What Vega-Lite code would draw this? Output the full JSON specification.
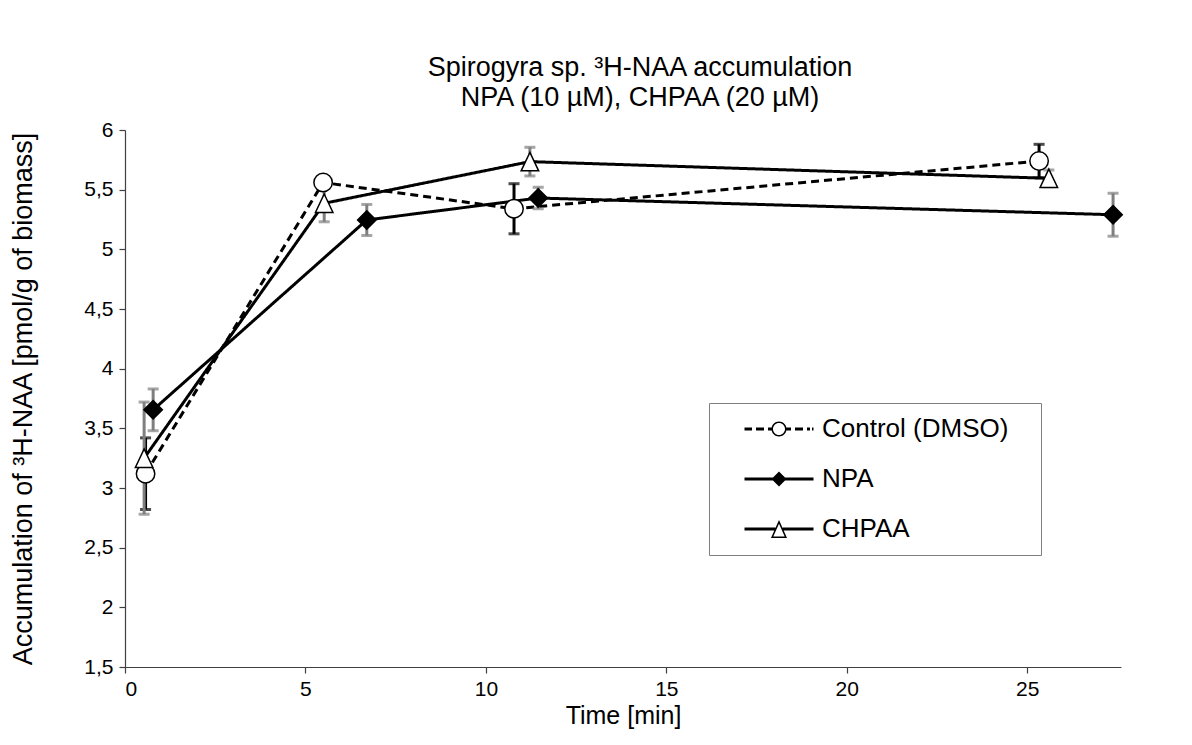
{
  "$schema": "https://vega.github.io/schema/vega-lite/v6.json",
  "width": 996,
  "height": 537,
  "autosize": "none",
  "padding": {"left": 125, "top": 130, "right": 71, "bottom": 78},
  "background": "white",
  "config": {
    "font": "Liberation Sans",
    "view": {"stroke": null},
    "axis": {
      "grid": false,
      "domainColor": "#404040",
      "domainWidth": 1.2,
      "tickColor": "#404040",
      "tickWidth": 1.2,
      "tickSize": 6,
      "labelColor": "black",
      "titleColor": "black",
      "labelFont": "Liberation Sans",
      "titleFont": "Liberation Sans",
      "labelFontSize": 21,
      "titleFontWeight": "normal"
    }
  },
  "title": {
    "text": ["Spirogyra sp. ³H-NAA accumulation", "NPA (10 µM), CHPAA (20 µM)"],
    "font": "Liberation Sans",
    "fontSize": 27,
    "fontWeight": "normal",
    "color": "black",
    "anchor": "middle",
    "dx": 17,
    "offset": 7,
    "lineHeight": 30
  },
  "data": {
    "values": [
      {"series": "Control (DMSO)", "time": 0.57, "value": 3.12, "err": 0.3},
      {"series": "Control (DMSO)", "time": 5.49, "value": 5.56, "err": 0.05},
      {"series": "Control (DMSO)", "time": 10.78, "value": 5.34, "err": 0.21},
      {"series": "Control (DMSO)", "time": 25.33, "value": 5.74, "err": 0.14},
      {"series": "NPA", "time": 0.78, "value": 3.655, "err": 0.175},
      {"series": "NPA", "time": 6.7, "value": 5.246, "err": 0.13},
      {"series": "NPA", "time": 11.45, "value": 5.43, "err": 0.09},
      {"series": "NPA", "time": 27.38, "value": 5.29, "err": 0.18},
      {"series": "CHPAA", "time": 0.53, "value": 3.25, "err": 0.47},
      {"series": "CHPAA", "time": 5.52, "value": 5.386, "err": 0.155},
      {"series": "CHPAA", "time": 11.22, "value": 5.735, "err": 0.12},
      {"series": "CHPAA", "time": 25.6, "value": 5.595, "err": 0.07}
    ]
  },
  "encoding": {
    "x": {
      "field": "time",
      "type": "quantitative",
      "scale": {"domain": [0, 27.6], "nice": false, "zero": false},
      "axis": {
        "title": "Time [min]",
        "titleFontSize": 25,
        "values": [0, 5, 10, 15, 20, 25],
        "labelPadding": 5,
        "titlePadding": 4
      }
    },
    "y": {
      "field": "value",
      "type": "quantitative",
      "scale": {"domain": [1.5, 6], "nice": false, "zero": false},
      "axis": {
        "title": "Accumulation of ³H-NAA [pmol/g of biomass]",
        "titleFontSize": 27,
        "values": [1.5, 2, 2.5, 3, 3.5, 4, 4.5, 5, 5.5, 6],
        "labelExpr": "replace(toString(datum.value), '.', ',')",
        "labelPadding": 6,
        "titlePadding": 46
      }
    }
  },
  "layer": [
    {
      "mark": {"type": "line", "color": "black", "strokeWidth": 3},
      "encoding": {
        "strokeDash": {
          "field": "series",
          "type": "nominal",
          "scale": {
            "domain": ["Control (DMSO)", "NPA", "CHPAA"],
            "range": [[8, 5], [1, 0], [1, 0]]
          },
          "legend": null
        }
      }
    },
    {
      "mark": {"type": "errorbar", "ticks": true, "thickness": 3, "size": 11},
      "encoding": {
        "yError": {"field": "err"},
        "color": {
          "field": "series",
          "type": "nominal",
          "scale": {
            "domain": ["Control (DMSO)", "NPA", "CHPAA"],
            "range": ["black", "#7f7f7f", "#7f7f7f"]
          },
          "legend": null
        }
      }
    },
    {
      "mark": {"type": "point", "filled": true, "stroke": "black", "strokeWidth": 1.5, "size": 340, "opacity": 1},
      "encoding": {
        "shape": {
          "field": "series",
          "type": "nominal",
          "scale": {
            "domain": ["Control (DMSO)", "NPA", "CHPAA"],
            "range": ["circle", "diamond", "M0 -1L0.95 1L-0.95 1Z"]
          },
          "legend": null
        },
        "fill": {
          "field": "series",
          "type": "nominal",
          "scale": {
            "domain": ["Control (DMSO)", "NPA", "CHPAA"],
            "range": ["white", "black", "white"]
          },
          "legend": null
        }
      }
    },
    {
      "transform": [{"filter": "false"}],
      "mark": {"type": "point", "filled": true, "color": "black", "strokeWidth": 0, "opacity": 1},
      "encoding": {
        "shape": {
          "field": "series",
          "type": "nominal",
          "scale": {
            "domain": ["Control (DMSO)", "NPA", "CHPAA"],
            "range": [
              "M-2.875 -0.125H-2.25V0.125H-2.875ZM-1.917 -0.125H-1.25V0.125H-1.917ZM-0.917 -0.125H-0.6V0.125H-0.917ZM0.6 -0.125H1V0.125H0.6ZM1.333 -0.125H2V0.125H1.333ZM2.333 -0.125H2.583V0.125H2.333ZM2.75 -0.125H2.875V0.125H2.75ZM0.625 0A0.625 0.625 0 1 1 -0.625 0A0.625 0.625 0 1 1 0.625 0ZM0.5 0A0.5 0.5 0 1 0 -0.5 0A0.5 0.5 0 1 0 0.5 0Z",
              "M-2.875 -0.125H-0.45V0.125H-2.875ZM0.45 -0.125H2.875V0.125H0.45ZM0 -0.625L0.625 0L0 0.625L-0.625 0Z",
              "M-2.875 -0.125H-0.3V0.125H-2.875ZM0.3 -0.125H2.875V0.125H0.3ZM0 -0.75L0.667 0.75L-0.667 0.75ZM0 -0.442L-0.4745 0.625L0.4745 0.625Z"
            ]
          },
          "legend": {
            "title": null,
            "orient": "none",
            "legendX": 584,
            "legendY": 273,
            "padding": 13,
            "rowPadding": 24,
            "strokeColor": "#7f7f7f",
            "fillColor": "white",
            "symbolSize": 576,
            "symbolStrokeWidth": 0,
            "symbolFillColor": "black",
            "symbolOffset": 44,
            "labelOffset": 30,
            "labelFont": "Liberation Sans",
            "labelFontSize": 26,
            "labelColor": "black",
            "labelLimit": 400,
            "labelExpr": "datum.label + '\u2800'"
          }
        }
      }
    }
  ],
  "resolve": {"scale": {"shape": "independent"}}
}
